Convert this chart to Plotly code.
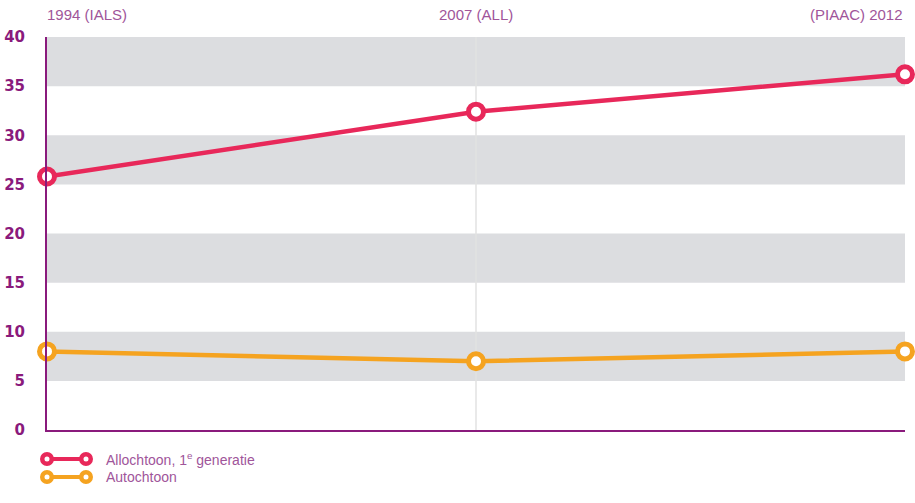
import plotly.graph_objects as go

categories = ["1994 (IALS)", "2007 (ALL)", "(PIAAC) 2012"]
allochtoon = [25.8, 32.4, 36.2]
autochtoon = [8.0, 7.0, 8.0]
y_ticks = [0, 5, 10, 15, 20, 25, 30, 35, 40]
series_names = ["Allochtoon, 1<sup>e</sup> generatie", "Autochtoon"]

RED = "#e8285a"
ORANGE = "#f5a320"
PURPLE = "#8a1a7c"
LABEL = "#a0559a"
BAND = "#dcdde0"

xpos = list(range(len(categories)))

fig = go.Figure()
for vals, col in [(allochtoon, RED), (autochtoon, ORANGE)]:
    fig.add_trace(go.Scatter(
        x=xpos, y=vals, mode="lines+markers",
        line=dict(color=col, width=4.5),
        marker=dict(size=15, color="white", line=dict(color=col, width=5)),
        cliponaxis=False, showlegend=False, hoverinfo="skip"))

shapes = []
for lo in [5, 15, 25, 35]:
    shapes.append(dict(type="rect", xref="paper", yref="y", x0=0, x1=1, y0=lo, y1=lo + 5,
                       fillcolor=BAND, line=dict(width=0), layer="below"))
shapes.append(dict(type="line", xref="x", yref="paper", x0=1, x1=1, y0=0, y1=1,
                   line=dict(color="#e2e2e2", width=1.5), layer="below"))

W, H = 858, 393
def px2paper(px, py):
    return (px - 47) / W, (430 - py) / H

for (py, col) in [(459, RED), (477, ORANGE)]:
    x0, y0 = px2paper(47, py)
    x1, _ = px2paper(86, py)
    shapes.append(dict(type="line", xref="paper", yref="paper", x0=x0, x1=x1, y0=y0, y1=y0,
                       line=dict(color=col, width=4)))
    for xc in (x0, x1):
        shapes.append(dict(type="circle", xref="paper", yref="paper",
                           xsizemode="pixel", ysizemode="pixel", xanchor=xc, yanchor=y0,
                           x0=-4.75, x1=4.75, y0=-4.75, y1=4.75,
                           fillcolor="white", line=dict(color=col, width=4.5)))

annotations = []
aligns = ["left", "center", "right"]
for i, (c, a) in enumerate(zip(categories, aligns)):
    annotations.append(dict(x=i, y=1, xref="x", yref="paper", text=c, showarrow=False,
                            xanchor=a, yanchor="bottom", yshift=12, xshift=(-2 if a == "left" else 0),
                            font=dict(family="Liberation Sans, Arial", size=15, color=LABEL)))
for (py, name) in [(459, series_names[0]), (477, series_names[1])]:
    xp, yp = px2paper(104, py)
    annotations.append(dict(x=xp, y=yp, xref="paper", yref="paper", text=name, showarrow=False,
                            xanchor="left", yanchor="middle",
                            font=dict(family="Liberation Sans, Arial", size=14, color=LABEL)))

fig.update_layout(
    width=915, height=503,
    margin=dict(l=47, r=10, t=37, b=73, autoexpand=False),
    paper_bgcolor="white", plot_bgcolor="white",
    shapes=shapes, annotations=annotations,
    xaxis=dict(range=[0, 2], showgrid=False, zeroline=False, showticklabels=False,
               showline=True, linecolor=PURPLE, linewidth=2, fixedrange=True,
               automargin=False),
    yaxis=dict(range=[0, 40], tickvals=y_ticks, showgrid=False, zeroline=False,
               showline=True, linecolor=PURPLE, linewidth=2, ticks="",
               ticklabelstandoff=17, automargin=False, fixedrange=True,
               tickfont=dict(family="DejaVu Sans, Arial", size=15, color=PURPLE, weight="bold")),
)

fig.write_html("out.html", post_script="document.body.style.margin='0';",
               config={"displayModeBar": False})
